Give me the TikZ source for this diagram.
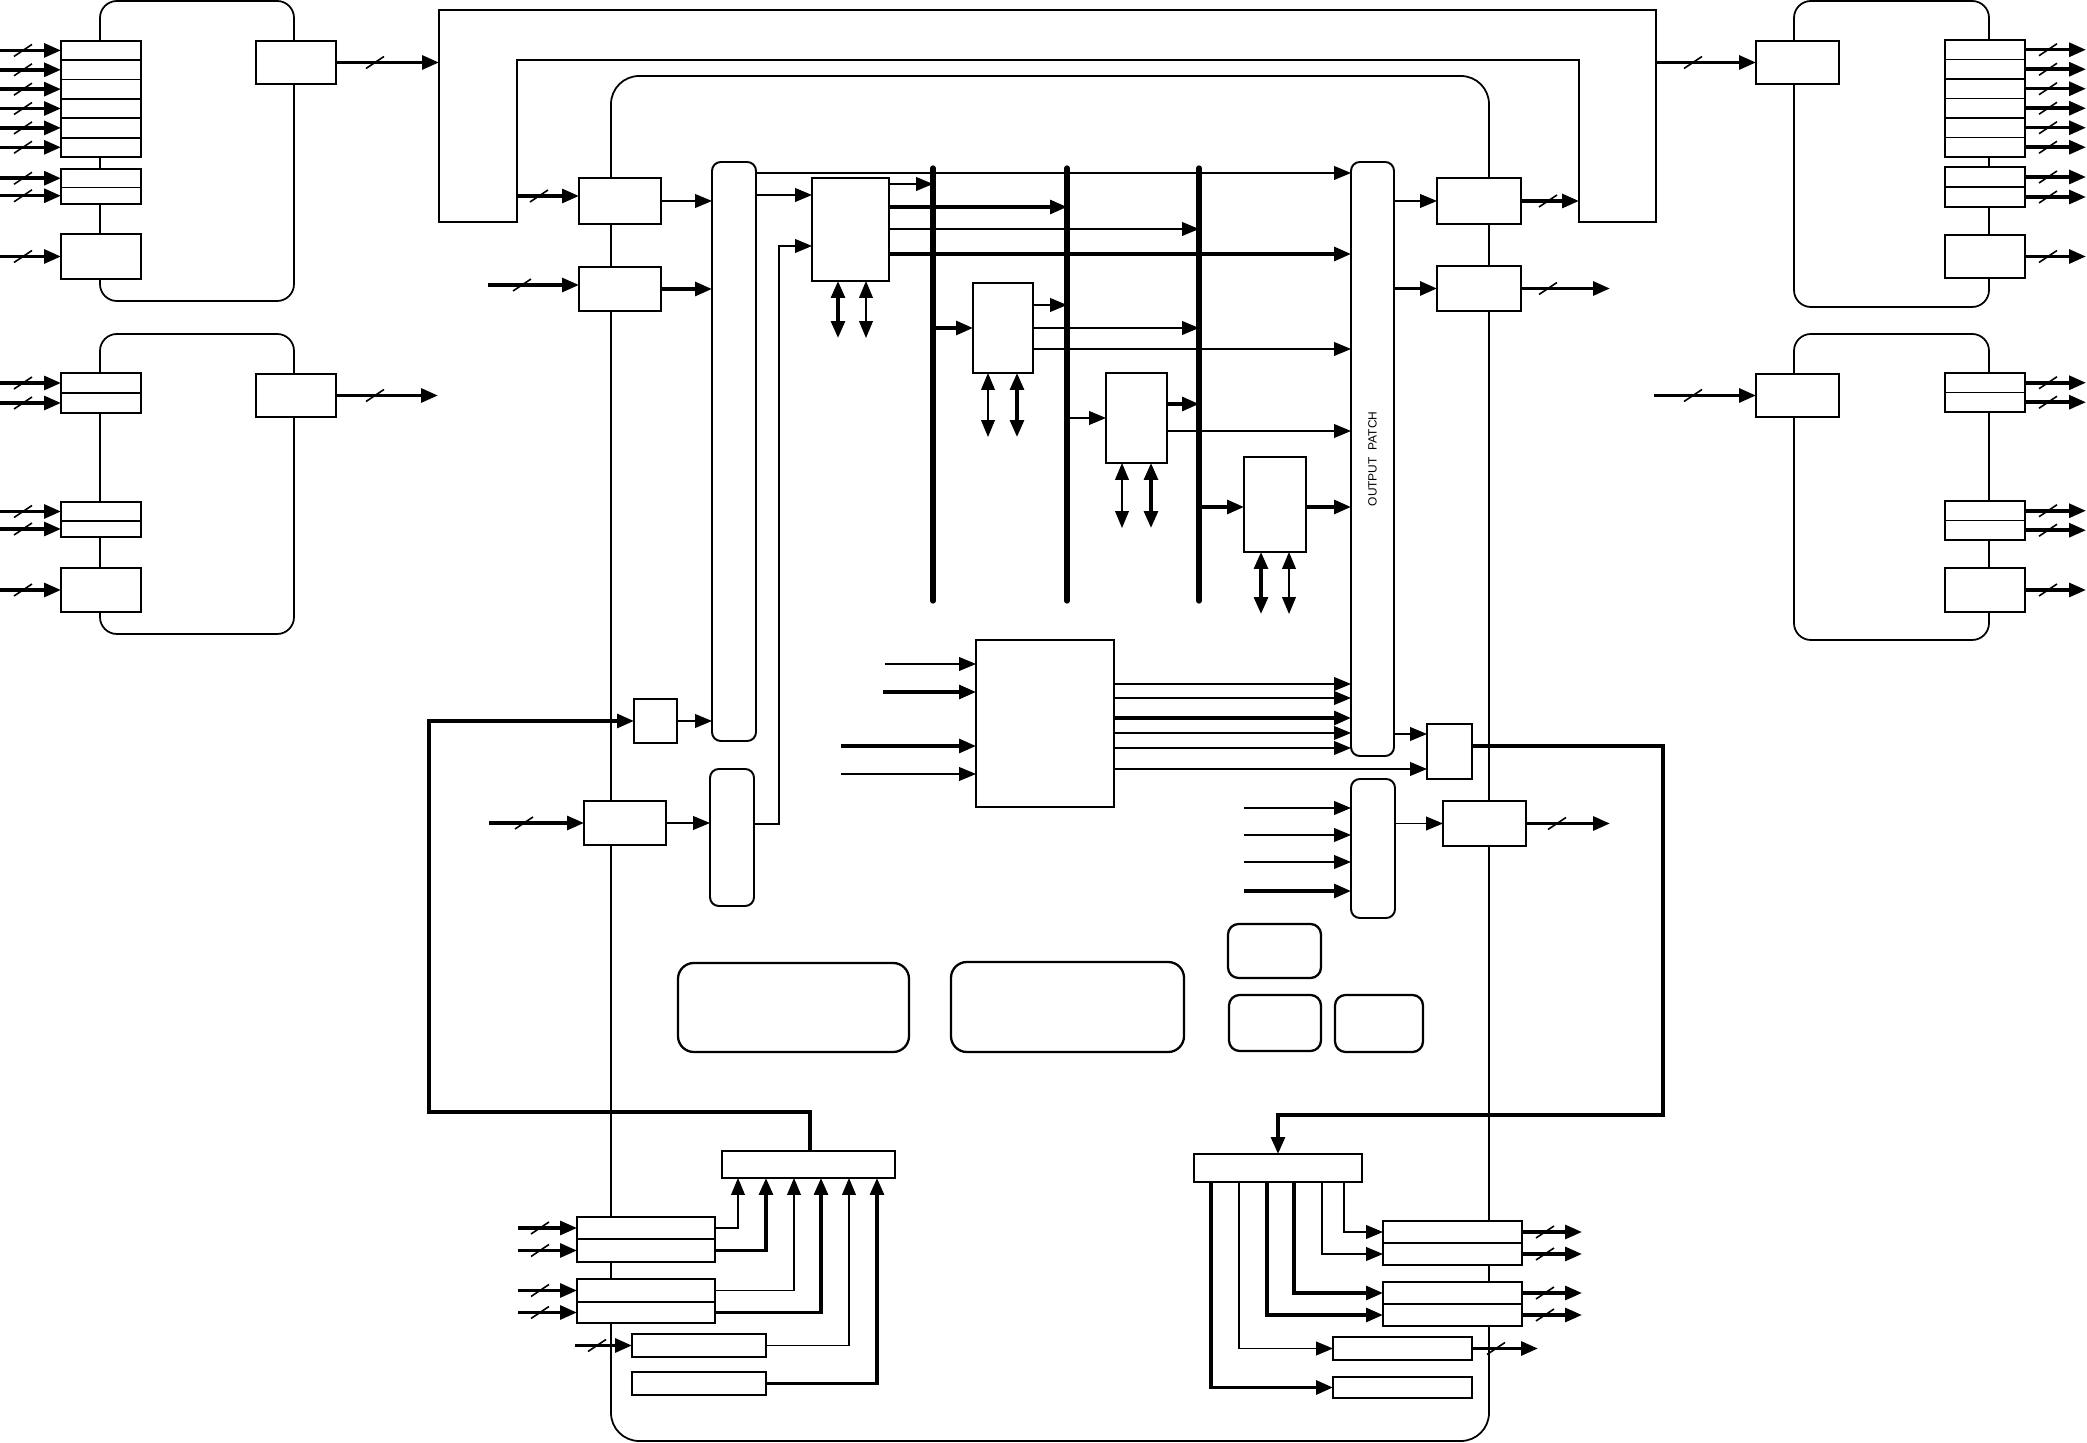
\documentclass[tikz,border=0pt]{standalone}
\usepackage{fontspec}
\setmainfont{Liberation Sans}
\usetikzlibrary{arrows.meta}
\tikzset{
  box/.style={draw, fill=white, line width=0.55pt, inner sep=0pt, outer sep=0pt},
  bxk/.style={line width=0.8pt},
  rbar/.style={rounded corners=2.5pt},
  rbx/.style={line width=0.65pt, rounded corners=4.5pt},
  rbs/.style={line width=0.65pt, rounded corners=3pt},
  thn/.style={line width=0.42pt},
  med/.style={line width=0.62pt},
  thk/.style={line width=1pt},
  arr/.style={-{Triangle[length=4.8pt,width=3.9pt]}},
  dbl/.style={{Triangle[length=4.8pt,width=3.9pt]}-{Triangle[length=4.8pt,width=3.9pt]}},
  bus/.style={line width=1.5pt, line cap=round},
  frm/.style={line width=0.5pt},
  sl/.style={line width=0.45pt},
}
\newcommand\bx[6][]{\node[box,#1,anchor=north west,minimum width={(#4-#2)*0.01cm},minimum height={(#5-#3)*0.01cm}] (#6) at (#2,#3) {};}
\newcommand\slsh[2]{\draw[sl] ({#1-9},{#2+6}) -- ({#1+9},{#2-6});}
\begin{document}
\begin{tikzpicture}[x=0.01cm,y=-0.01cm]
\useasboundingbox (0,0) rectangle (2087,1443);
% ---------- frames
\draw[frm,rounded corners=4.8pt] (100,1) rectangle (294,301);
\draw[frm,rounded corners=4.8pt] (100,334) rectangle (294,634);
\draw[frm,rounded corners=4.8pt] (1794,1) rectangle (1989,307);
\draw[frm,rounded corners=4.8pt] (1794,334) rectangle (1989,640);
\draw[frm,rounded corners=8pt] (611,76) rectangle (1489,1441);
\draw[frm] (439,222) -- (439,10) -- (1656,10) -- (1656,222) -- (1579,222) -- (1579,60) -- (517,60) -- (517,222) -- cycle;
\coordinate (fL) at (439,62.5);
\coordinate (fR) at (1656,62.5);
\coordinate (fIL) at (517,196);
\coordinate (fIR) at (1579,201);
% ---------- left modules
\foreach \n/\ya/\yb in {la1/40.7/60.1, la2/60.1/79.5, la3/79.5/98.8, la4/98.8/118.2, la5/118.2/137.6, la6/137.6/157, lb1/169/187.5, lb2/187.5/204, lc/234/279, ma1/373/393, ma2/393/413, mb1/502/521, mb2/521/537, mc/568/612}{\bx{61}{\ya}{141}{\yb}{\n}}
\foreach \n/\y in {la1/50.4, la2/69.8, la3/89.2, la4/108.5, la5/127.9, la6/147.3, lb1/178.3, lb2/195.8, lc/256.5, ma1/383, ma2/403, mb1/511.5, mb2/529, mc/590}{\draw[arr,thk] (0,0 |- \n.west) -- (\n.west); \slsh{23}{\y}}
\bx{256}{41}{336}{84}{ld}
\bx{256}{374}{336}{417}{md}
\draw[arr,thk] (ld.east) -- (ld.east -| fL); \slsh{375}{62.5}
\coordinate (mdo) at (438,395.5);
\draw[arr,thk] (md.east) -- (mdo); \slsh{375}{395.5}
% ---------- right modules
\bx{1756}{41}{1839}{84}{ri1}
\bx{1756}{374}{1839}{417}{ri2}
\draw[arr,thk] (fR) -- (ri1.west); \slsh{1693}{62.5}
\coordinate (ri2i) at (1654,395.5);
\draw[arr,thk] (ri2i) -- (ri2.west); \slsh{1693}{395.5}
\foreach \n/\ya/\yb in {ra1/40/59.5, ra2/59.5/79, ra3/79/98.5, ra4/98.5/118, ra5/118/137.5, ra6/137.5/157, rb1/167/187, rb2/187/207, rc/235/278, sa1/373/392.5, sa2/392.5/412, sb1/501/520.5, sb2/520.5/540, sc/568/612}{\bx{1945}{\ya}{2025}{\yb}{\n} \draw[arr,thk] (\n.east) -- (2086,0 |- \n.east); \slsh{2048}{(\ya+\yb)/2}}
% ---------- main unit: inputs
\bx{579}{178}{661}{224}{A1}
\bx{579}{267}{661}{311}{A2}
\bx[rbar]{712}{162}{756}{741}{bar}
\bx[rbar]{710}{769}{754}{906}{lbar}
\bx{634}{699}{677}{743}{C}
\bx{584}{801}{666}{845}{D}
\draw[arr,thk] (fIL) -- (A1.west |- fIL); \slsh{539}{196}
\coordinate (a2in) at (488,285);
\draw[arr,thk] (a2in) -- (A2.west |- a2in); \slsh{522}{285}
\draw[arr,thn] (A1.east) -- (A1.east -| bar.west);
\draw[arr,thk] (A2.east) -- (A2.east -| bar.west);
\draw[arr,thn] (C.east) -- (C.east -| bar.west);
\coordinate (din) at (489,823);
\draw[arr,thk] (din) -- (D.west |- din); \slsh{524}{823}
\draw[arr,thn] (D.east) -- (D.east -| lbar.west);
% ---------- processors and buses
\bx{812}{178}{889}{281}{P1}
\bx{973}{283}{1033}{373}{P2}
\bx{1106}{373}{1167}{463}{P3}
\bx[bxk]{1244}{457}{1306}{552}{P4}
\bx[rbar]{1351}{162}{1394}{756}{patch}
\node[rotate=90,font=\fontsize{3.4pt}{4pt}\selectfont] at (patch.center) {OUTPUT\ \ PATCH};
\coordinate (b1) at (933,168); \coordinate (b1e) at (933,601);
\coordinate (b2) at (1067,168); \coordinate (b2e) at (1067,601);
\coordinate (b3) at (1199,168); \coordinate (b3e) at (1199,601);
\draw[bus] (b1) -- (b1e);
\draw[bus] (b2) -- (b2e);
\draw[bus] (b3) -- (b3e);
\draw[arr,thn] (bar.east |- 0,173) -- (patch.west |- 0,173);
\draw[arr,thn] (bar.east |- 0,195) -- (P1.west |- 0,195);
\draw[arr,thn] (lbar.east |- 0,824) -- ++(25,0) |- (P1.west |- 0,246);
\draw[arr,thn] (P1.east |- 0,184) -- (b1 |- 0,184);
\draw[arr,thk] (P1.east |- 0,207) -- (b2 |- 0,207);
\draw[arr,thn] (P1.east |- 0,229) -- (b3 |- 0,229);
\draw[arr,thk] (P1.east |- 0,254) -- (patch.west |- 0,254);
\draw[arr,thk] (b1 |- P2.west) -- (P2.west);
\draw[arr,thn] (P2.east |- 0,305) -- (b2 |- 0,305);
\draw[arr,thn] (P2.east) -- (b3 |- P2.east);
\draw[arr,thn] (P2.east |- 0,349) -- (patch.west |- 0,349);
\draw[arr,thn] (b2 |- P3.west) -- (P3.west);
\draw[arr,thk] (P3.east |- 0,404) -- (b3 |- 0,404);
\draw[arr,thn] (P3.east |- 0,431) -- (patch.west |- 0,431);
\draw[arr,thk] (b3 |- 0,507) -- (P4.west |- 0,507);
\draw[arr,thk] (P4.east |- 0,507) -- (patch.west |- 0,507);
\draw[dbl,thk] (P1.south -| 838,0) -- ++(0,57);
\draw[dbl,thn] (P1.south -| 866,0) -- ++(0,57);
\draw[dbl,thn] (P2.south -| 988,0) -- ++(0,64);
\draw[dbl,thk] (P2.south -| 1017,0) -- ++(0,64);
\draw[dbl,thn] (P3.south -| 1122,0) -- ++(0,65);
\draw[dbl,thk] (P3.south -| 1151,0) -- ++(0,65);
\draw[dbl,thk] (P4.south -| 1261,0) -- ++(0,62);
\draw[dbl,thn] (P4.south -| 1289,0) -- ++(0,62);
% ---------- outputs of patch
\bx{1437}{178}{1521}{224}{O1}
\bx[bxk]{1437}{266}{1521}{311}{O2}
\draw[arr,thn] (patch.east |- O1.west) -- (O1.west);
\draw[arr,thk] (patch.east |- O2.west) -- (O2.west);
\draw[arr,thk] (O1.east) -- (O1.east -| fIR); \slsh{1548}{201}
\coordinate (o2out) at (1610,288.5);
\draw[arr,thk] (O2.east) -- (o2out); \slsh{1548}{288.5}
% ---------- mixer block
\bx{976}{640}{1114}{807}{MUX}
\coordinate (mi1) at (885,664); \coordinate (mi2) at (883,692);
\coordinate (mi3) at (841,746); \coordinate (mi4) at (841,774);
\draw[arr,thn] (mi1) -- (MUX.west |- mi1);
\draw[arr,thk] (mi2) -- (MUX.west |- mi2);
\draw[arr,thk] (mi3) -- (MUX.west |- mi3);
\draw[arr,thn] (mi4) -- (MUX.west |- mi4);
\foreach \y/\s in {684/thn, 698/thn, 718/thk, 733/thn, 748/thn}{\draw[arr,\s] (MUX.east |- 0,\y) -- (patch.west |- 0,\y);}
\bx[bxk]{1427}{724}{1472}{779}{E}
\draw[arr,thn] (MUX.east |- 0,769) -- (E.west |- 0,769);
\draw[arr,thn] (patch.east |- 0,734) -- (E.west |- 0,734);
% ---------- lower patch
\bx[rbar]{1351}{779}{1395}{918}{lp}
\foreach \y/\s in {808/thn, 835/thn, 862/thn, 891/thk}{\draw[arr,\s] (1244,\y) -- (lp.west |- 0,\y);}
\bx{1443}{801}{1526}{846}{G}
\draw[arr,thn] (lp.east |- G.west) -- (G.west);
\coordinate (gout) at (1610,823.5);
\draw[arr,thk] (G.east) -- (gout); \slsh{1557}{823.5}
% ---------- rounded blocks
\bx[rbx]{678}{963}{909}{1052}{R1}
\bx[rbx]{951}{962}{1184}{1052}{R2}
\bx[rbs]{1228}{924}{1321}{978}{R3}
\bx[rbs]{1229}{995}{1321}{1051}{R4}
\bx[rbs]{1335}{995}{1423}{1052}{R5}
% ---------- bottom left
\bx[bxk]{722}{1151}{895}{1178}{H}
\bx{577}{1217}{715}{1239}{s1a}
\bx{577}{1239}{715}{1262}{s1b}
\bx{577}{1279}{715}{1302}{s2a}
\bx{577}{1302}{715}{1323}{s2b}
\bx{632}{1334}{766}{1357}{I}
\bx{632}{1372}{766}{1395}{J}
\draw[arr,thk] (H.north -| 810,0) |- (429,1112) |- (C.west);
\foreach \n/\y in {s1a/1228, s1b/1250.5, s2a/1290.5, s2b/1312.5}{\draw[arr,thk] (518,0 |- \n.west) -- (\n.west); \slsh{540}{\y}}
\draw[arr,thk] (575,0 |- I.west) -- (I.west); \slsh{597}{1345.5}
\draw[arr,thn] (s1a.east) -| (H.south -| 738,0);
\draw[arr,thk] (s1b.east) -| (H.south -| 766,0);
\draw[arr,thn] (s2a.east) -| (H.south -| 794,0);
\draw[arr,thk] (s2b.east) -| (H.south -| 821,0);
\draw[arr,thn] (I.east) -| (H.south -| 849,0);
\draw[arr,thk] (J.east) -| (H.south -| 877,0);
% ---------- bottom right
\bx[bxk]{1194}{1154}{1362}{1182}{F}
\bx{1383}{1221}{1522}{1243}{t1a}
\bx{1383}{1243}{1522}{1265}{t1b}
\bx[bxk]{1383}{1282}{1522}{1304}{t2a}
\bx[bxk]{1383}{1304}{1522}{1326}{t2b}
\bx{1333}{1337}{1472}{1360}{K}
\bx{1333}{1377}{1472}{1398}{L}
\draw[arr,thk] (E.east |- 0,746) -| (1663,1115) -| (F.north -| 1278,0);
\draw[arr,thn] (F.south -| 1344,0) |- (t1a.west);
\draw[arr,thn] (F.south -| 1322,0) |- (t1b.west);
\draw[arr,thk] (F.south -| 1294,0) |- (t2a.west);
\draw[arr,thk] (F.south -| 1267,0) |- (t2b.west);
\draw[arr,thn] (F.south -| 1239,0) |- (K.west);
\draw[arr,thk] (F.south -| 1211,0) |- (L.west);
\foreach \n/\y in {t1a/1232, t1b/1254, t2a/1293, t2b/1315}{\draw[arr,thk] (\n.east) -- (1582,0 |- \n.east); \slsh{1545}{\y}}
\draw[arr,thk] (K.east) -- (1538,0 |- K.east); \slsh{1496}{1348.5}
\end{tikzpicture}
\end{document}
